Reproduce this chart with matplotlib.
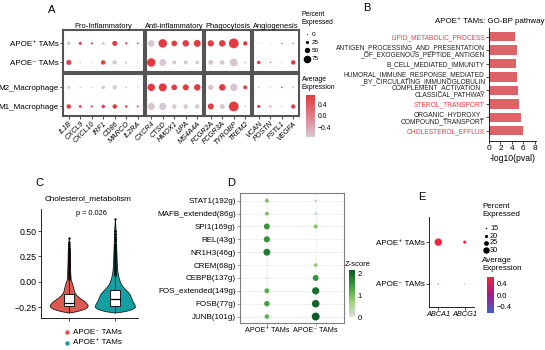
import numpy as np
import matplotlib
matplotlib.use("Agg")
import matplotlib.pyplot as plt
from matplotlib.colors import LinearSegmentedColormap, Normalize
from matplotlib.cm import ScalarMappable
from matplotlib.patches import Rectangle

plt.rcParams["font.family"] = ["Liberation Sans", "DejaVu Sans"]
plt.rcParams["axes.linewidth"] = 0.6

W, H = 545, 350
POS = "APOE\u207a TAMs"
NEG = "APOE\u207b TAMs"
MINUS = "\u2212"

# ---------------- panel A data ----------------
a_groups = ["Pro-Inflammatory", "Anti-inflammatory", "Phagocytosis", "Angiogenesis"]
a_group_sizes = [7, 5, 4, 4]
a_genes = ["IL1B", "CXCL9", "CXCL10", "IRF1", "CD86", "MARCO", "IL2RA",
           "CXCR4", "CTSD", "HMOX1", "LIPA", "MS4A4A",
           "FCGR2A", "FCGR3A", "TYROBP", "TREM2",
           "VCAN", "POSTN", "FSTL1", "VEGFA"]
a_rows_top = [POS, NEG]
a_rows_bottom = ["M2_Macrophage", "M1_Macrophage"]
pct_apoe_pos = [25, 20, 12, 20, 40, 12, 8, 55, 75, 47, 55, 60, 53, 55, 88, 33, 3, 1, 2, 15]
pct_apoe_neg = [40, 6, 5, 35, 33, 12, 5, 75, 60, 30, 30, 27, 40, 35, 70, 10, 25, 3, 3, 35]
pct_m2 = [20, 6, 5, 25, 33, 8, 4, 65, 70, 47, 50, 55, 45, 55, 65, 30, 6, 3, 6, 12]
pct_m1 = [35, 18, 12, 25, 35, 15, 8, 60, 62, 35, 35, 35, 50, 40, 88, 8, 22, 3, 5, 33]
expr_apoe_pos = [-0.71, 0.71, 0.71, -0.71, 0.71, 0.71, 0.71, -0.71, 0.71, 0.71, 0.71, 0.71,
                 0.71, 0.71, 0.71, 0.71, -0.71, -0.71, 0.71, -0.71]
expr_apoe_neg = [-v for v in expr_apoe_pos]
expr_m2 = [-0.71, -0.71, -0.71, -0.71, -0.71, -0.71, -0.71, 0.71, 0.71, 0.71, 0.71, 0.71,
           -0.71, 0.71, -0.71, 0.71, -0.71, -0.71, 0.71, -0.71]
expr_m1 = [-v for v in expr_m2]
a_legend_pct = [0, 25, 50, 75]

# ---------------- panel B data ----------------
b_terms = ["LIPID_METABOLIC_PROCESS",
           "ANTIGEN_PROCESSING_AND_PRESENTATION\n_OF_EXOGENOUS_PEPTIDE_ANTIGEN",
           "B_CELL_MEDIATED_IMMUNITY",
           "HUMORAL_IMMUNE_RESPONSE_MEDIATED\n_BY_CIRCULATING_IMMUNOGLOBULIN",
           "COMPLEMENT_ACTIVATION_\nCLASSICAL_PATHWAY",
           "STEROL_TRANSPORT",
           "ORGANIC_HYDROXY_\nCOMPOUND_TRANSPORT",
           "CHOLESTEROL_EFFLUX"]
b_logp = [4.47, 4.87, 4.76, 4.93, 5.04, 5.2, 5.6, 5.9]
b_highlight = [True, False, False, False, False, True, False, True]

# ---------------- panel C data ----------------
c_groups = [NEG, POS]
c_colors = ["#DC5A52", "#14A0A3"]
c_violin_y = [
    [-0.305, -0.29, -0.27, -0.25, -0.23, -0.21, -0.19, -0.16, -0.13, -0.10, -0.06, -0.02, 0.02, 0.10, 0.20, 0.30, 0.43],
    [-0.305, -0.29, -0.27, -0.25, -0.22, -0.19, -0.15, -0.12, -0.09, -0.06, -0.03, 0.00, 0.05, 0.10, 0.20, 0.35, 0.50, 0.62],
]
c_violin_halfw = [  # half width in pixels
    [0, 8, 15, 18.5, 19, 17.5, 15.5, 11, 7.5, 5.5, 4.5, 3.5, 2, 1.5, 1.2, 1.0, 0],
    [0, 10, 17, 20, 19.5, 17.5, 16, 14.5, 12, 9, 6.5, 5, 3.5, 2.5, 1.8, 1.3, 0.8, 0],
]
c_q1 = [-0.237, -0.24]
c_median = [-0.205, -0.171]
c_q3 = [-0.125, -0.082]
c_whisk_lo = [-0.30, -0.30]
c_whisk_hi = [0.03, 0.07]
c_outlier_band = [(0.03, 0.33), (0.07, 0.37)]
c_outliers = [[0.35, 0.37, 0.39, 0.43], [0.40, 0.42, 0.44, 0.47, 0.50, 0.62]]

# ---------------- panel D data ----------------
d_regulons = ["STAT1(192g)", "MAFB_extended(86g)", "SPI1(169g)", "REL(43g)", "NR1H3(46g)",
              "CREM(68g)", "CEBPB(137g)", "FOS_extended(149g)", "FOSB(77g)", "JUNB(101g)"]
d_groups = [POS, NEG]
d_z_pos = [0.9, 0.9, 1.5, 1.55, 1.8, 0.05, 0.2, 1.2, 1.35, 1.1]
d_z_neg = [0.4, 0.45, 0.9, 0.02, 0.05, 0.8, 1.5, 1.9, 2.0, 2.1]

# ---------------- panel E data ----------------
e_genes = ["ABCA1", "ABCG1"]
e_rows = [NEG, POS]
e_pct_neg = [14, 13]
e_pct_pos = [33, 20]
e_expr_neg = [-0.707, -0.707]
e_expr_pos = [0.707, 0.707]
e_legend_pct = [15, 20, 25, 30]

fig = plt.figure(figsize=(W / 100, H / 100), dpi=100)


def add_ax(left, top, width, height):
    return fig.add_axes([left / W, 1 - (top + height) / H, width / W, height / H])


def pts(d_px):
    # marker area (points^2) from a diameter in pixels
    return (np.asarray(d_px, dtype=float) * 0.72) ** 2


ov = fig.add_axes([0, 0, 1, 1])
ov.set_xlim(0, W)
ov.set_ylim(H, 0)
ov.axis("off")
ov.set_zorder(5)

for letter, x, y in [("A", 52, 10), ("B", 367, 8), ("C", 39, 183), ("D", 231, 183), ("E", 422, 197)]:
    ov.text(x, y, letter, fontsize=8, ha="center", va="center")

# ================= A =================
cmap_a = LinearSegmentedColormap.from_list("a", ["#d8c9d7", "#e2383e"])
norm_a = Normalize(-0.75, 0.75)
size_a = lambda p: pts(1 + 0.1 * np.asarray(p))

g_left = [63]
for n in a_group_sizes[:-1]:
    g_left.append(g_left[-1] + n * 11.5 + 2)
facets = [(30, a_rows_top, [pct_apoe_pos, pct_apoe_neg], [expr_apoe_pos, expr_apoe_neg]),
          (74, a_rows_bottom, [pct_m2, pct_m1], [expr_m2, expr_m1])]
for f_i, (top, rows, pcts, exprs) in enumerate(facets):
    start = 0
    for g_i, n in enumerate(a_group_sizes):
        ax = add_ax(g_left[g_i], top, n * 11.5, 42)
        xs = np.arange(n)
        for k in range(2):
            ax.scatter(xs, np.full(n, 1 - k), s=size_a(pcts[k][start:start + n]),
                       c=exprs[k][start:start + n], cmap=cmap_a, norm=norm_a, linewidths=0)
        ax.set_xlim(-0.5, n - 0.5)
        ax.set_ylim(-0.5, 1.7)
        for sp in ax.spines.values():
            sp.set_color("#555555")
            sp.set_linewidth(1.5)
        ax.tick_params(length=2, width=0.5, pad=1)
        if g_i == 0:
            ax.set_yticks([1, 0])
            ax.set_yticklabels(rows, fontsize=5.8)
        else:
            ax.set_yticks([])
        ax.set_xticks(xs)
        if f_i == 1:
            ax.set_xticklabels(a_genes[start:start + n], fontsize=5.2, style="italic",
                               rotation=45, ha="right", va="top", rotation_mode="anchor")
        else:
            ax.tick_params(axis="x", length=0)
            ax.set_xticklabels([])
            ov.text(g_left[g_i] + n * 11.5 / 2, 26, a_groups[g_i], fontsize=5.4,
                    ha="center", va="center")
        start += n

ov.text(302, 11, "Percent\nExpressed", fontsize=4.9, ha="left", va="top", linespacing=1.2)
for p, y in zip(a_legend_pct, [34, 42.2, 50.4, 58.6]):
    ov.scatter(306.5, y, s=size_a(p) * 0.8, color="black", linewidths=0)
    ov.text(312, y, str(p), fontsize=4.6, va="center")
ov.text(302, 76, "Average\nExpression", fontsize=4.9, ha="left", va="top", linespacing=1.2)
cax = add_ax(306, 95, 9, 42)
cb = fig.colorbar(ScalarMappable(norm=norm_a, cmap=cmap_a), cax=cax)
cb.outline.set_visible(False)
cb.set_ticks([0.4, 0.0, -0.4])
cb.set_ticklabels(["0.4", "0.0", MINUS + "0.4"])
cax.tick_params(labelsize=4.9, length=0, pad=2)

# ================= B =================
axb = add_ax(489, 28, 47, 113)
n_b = len(b_terms)
yb = n_b - 1 - np.arange(n_b)
axb.barh(yb, b_logp, height=0.7, color="#DD6367")
axb.set_xlim(0, 8.2)
axb.set_ylim(-0.77, 7.65)
axb.set_yticks(yb)
axb.set_yticklabels(b_terms, fontsize=4.8, linespacing=1.05)
for lab, hl in zip(axb.get_yticklabels(), b_highlight):
    lab.set_color("#E8413F" if hl else "#222222")
    lab.set_multialignment("right")
axb.set_xticks([0, 2, 4, 6, 8])
axb.tick_params(length=2, width=0.5, pad=1)
axb.tick_params(axis="x", labelsize=6)
axb.set_xlabel("-log10(pval)", fontsize=6.2, labelpad=1)
axb.spines[["top", "right"]].set_visible(False)
ov.text(490, 21, POS + ": GO-BP pathway", fontsize=5.7, ha="center", va="center")

# ================= C =================
axc = add_ax(41, 209, 97, 109)
px_per_unit = 97 / (2.5 - 0.4)
for i in range(2):
    cx = i + 1
    vy = np.array(c_violin_y[i])
    hw = np.array(c_violin_halfw[i]) / px_per_unit
    axc.fill_betweenx(vy, cx - hw, cx + hw, facecolor=c_colors[i], edgecolor="black", linewidth=0.5)
    bw = 0.22
    axc.plot([cx, cx], [c_q3[i], c_whisk_hi[i]], color="black", lw=0.5)
    axc.plot([cx, cx], [c_q1[i], c_whisk_lo[i]], color="black", lw=0.5)
    axc.add_patch(Rectangle((cx - bw / 2, c_q1[i]), bw, c_q3[i] - c_q1[i],
                            facecolor="white", edgecolor="black", lw=0.6, zorder=3))
    axc.plot([cx - bw / 2, cx + bw / 2], [c_median[i]] * 2, color="black", lw=0.9, zorder=4)
    lo, hi = c_outlier_band[i]
    axc.plot([cx, cx], [lo, hi], color="black", lw=1.8, solid_capstyle="round", zorder=4)
    axc.scatter([cx] * len(c_outliers[i]), c_outliers[i], s=pts(2.4), color="black",
                linewidths=0, zorder=4)
axc.set_xlim(0.4, 2.5)
axc.set_ylim(-0.358, 0.718)
axc.set_xticks([1, 2])
axc.set_xticklabels([])
axc.set_yticks([-0.25, 0, 0.25, 0.5])
axc.set_yticklabels([MINUS + "0.25", "0.00", "0.25", "0.50"])
axc.tick_params(labelsize=6.3, length=2, width=0.5, pad=1)
axc.spines[["top", "right"]].set_visible(False)
axc.text(1.5, 0.67, "p = 0.026", fontsize=5.3, ha="center", va="center")
ov.text(88, 199, "Cholesterol_metabolism", fontsize=5.9, ha="center", va="center")
for lab, col, y in zip(c_groups, c_colors, [332, 343]):
    ov.scatter(67, y, s=pts(4.5), color=col, linewidths=0)
    ov.text(73, y, lab, fontsize=5.8, va="center")

# ================= D =================
axd = add_ax(240, 193, 104, 130)
cmap_d = LinearSegmentedColormap.from_list("d", ["#e0e0e0", "#9ccf74", "#3b9a3e", "#0a5a25"])
norm_d = Normalize(0, 2.15)
yd = len(d_regulons) - 1 - np.arange(len(d_regulons))
for j, z in enumerate([d_z_pos, d_z_neg]):
    z = np.array(z)
    axd.scatter(np.full(len(z), j), yd, s=pts(1 + 3.3 * z), c=z, cmap=cmap_d, norm=norm_d,
                linewidths=0, zorder=3)
axd.set_xlim(-0.55, 1.58)
axd.set_ylim(-0.5, 9.6)
axd.set_xticks([0, 1])
axd.set_xticklabels(d_groups, fontsize=5.2)
axd.set_yticks(yd)
axd.set_yticklabels(d_regulons, fontsize=5.8)
axd.grid(color="#ebebeb", lw=0.5)
axd.set_axisbelow(True)
for sp in axd.spines.values():
    sp.set_color("#7f7f7f")
    sp.set_linewidth(0.8)
axd.tick_params(length=2, width=0.5, color="#7f7f7f", pad=1)
ov.text(345, 264, "Z-score", fontsize=5.5, va="center")
caxd = add_ax(349, 270, 6, 47)
cbd = fig.colorbar(ScalarMappable(norm=norm_d, cmap=cmap_d), cax=caxd)
cbd.outline.set_visible(False)
cbd.set_ticks([0, 1, 2])
caxd.tick_params(labelsize=5.5, length=0, pad=2)

# ================= E =================
axe = add_ax(429, 217, 45, 90)
cmap_e = LinearSegmentedColormap.from_list("e", ["#3f63c9", "#a31a8c", "#f0243a"])
norm_e = Normalize(-0.65, 0.65)
size_e = lambda p: pts(0.5 + (np.asarray(p) - 12) * 0.33)
xe = np.arange(len(e_genes))
for k, (pc, ex) in enumerate([(e_pct_neg, e_expr_neg), (e_pct_pos, e_expr_pos)]):
    axe.scatter(xe, np.full(len(xe), k), s=size_e(pc), c=ex, cmap=cmap_e, norm=norm_e,
                linewidths=0)
axe.set_xlim(-0.35, 1.35)
axe.set_ylim(-0.55, 1.6)
axe.set_xticks(xe)
axe.set_xticklabels(e_genes, style="italic", fontsize=5.3)
axe.set_yticks([0, 1])
axe.set_yticklabels(e_rows, fontsize=5.8)
axe.tick_params(length=2, width=0.5, pad=1)
axe.spines[["top", "right"]].set_visible(False)

ov.text(482, 203, "Percent\nExpressed", fontsize=5.8, ha="left", va="top", linespacing=1.1)
for p, y in zip(e_legend_pct, [228, 236, 243, 250]):
    ov.scatter(486, y, s=size_e(p), color="black", linewidths=0)
    ov.text(490, y, str(p), fontsize=5.3, va="center")
ov.text(482, 257, "Average\nExpression", fontsize=5.8, ha="left", va="top", linespacing=1.1)
caxe = add_ax(487, 277, 7, 36)
cbe = fig.colorbar(ScalarMappable(norm=norm_e, cmap=cmap_e), cax=caxe)
cbe.outline.set_visible(False)
cbe.set_ticks([0.4, 0.0, -0.4])
cbe.set_ticklabels(["0.4", "0.0", MINUS + "0.4"])
caxe.tick_params(labelsize=5.5, length=0, pad=2)

fig.savefig("out.png", dpi=100)
